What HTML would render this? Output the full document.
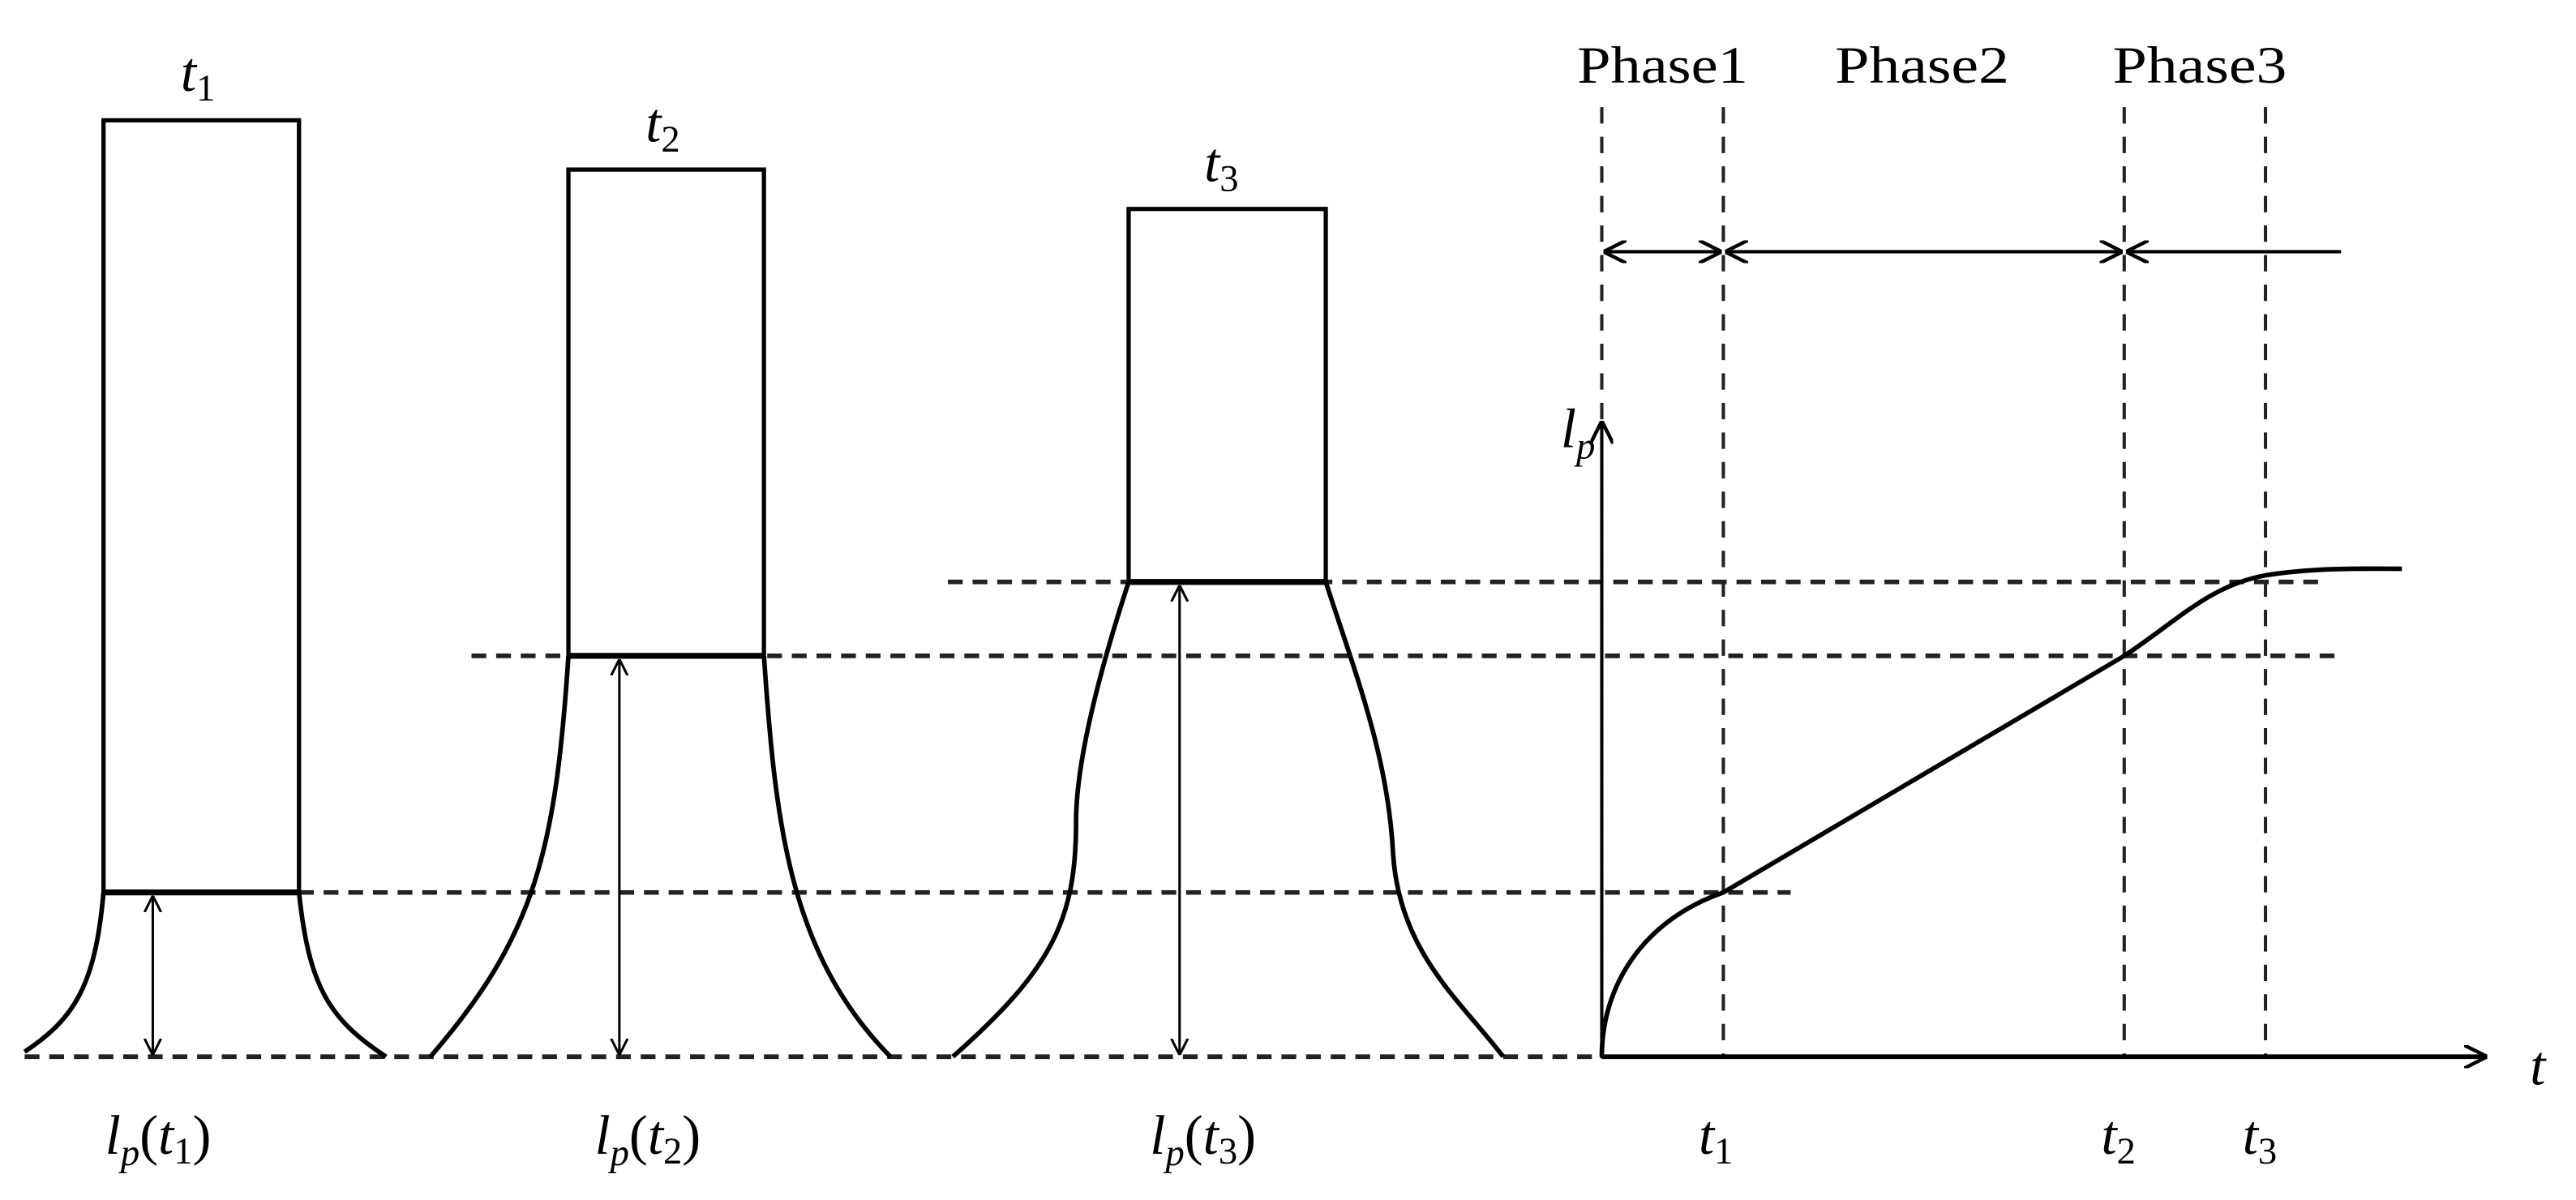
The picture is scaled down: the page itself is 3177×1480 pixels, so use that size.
<!DOCTYPE html>
<html><head><style>html,body{margin:0;padding:0;background:#fff}svg{display:block}</style></head>
<body>
<svg width="3177" height="1480" viewBox="0 0 1568 730" xmlns="http://www.w3.org/2000/svg">
<defs>
<marker id="a" viewBox="0 0 10 10" refX="10" refY="5" markerWidth="10" markerHeight="12" markerUnits="userSpaceOnUse" orient="auto-start-reverse"><path d="M0,0 L10,5 L0,10" fill="none" stroke="#000" stroke-width="1.5"/></marker>
<marker id="b" viewBox="0 0 14 14" refX="14" refY="7" markerWidth="14" markerHeight="14" markerUnits="userSpaceOnUse" orient="auto-start-reverse"><path d="M0,0 L14,7 L0,14" fill="none" stroke="#000" stroke-width="2.2"/></marker>
</defs>
<g fill="none" stroke="#222" stroke-width="2.8" stroke-dasharray="9,6">
<line x1="15" y1="643" x2="975" y2="643"/>
<line x1="182" y1="543" x2="1090" y2="543"/>
<line x1="287" y1="399" x2="1425" y2="399"/>
<line x1="577" y1="354" x2="1415" y2="354"/>
</g>
<g fill="none" stroke="#222" stroke-width="2" stroke-dasharray="10,8">
<line x1="975" y1="65" x2="975" y2="643"/>
<line x1="1049" y1="65" x2="1049" y2="643"/>
<line x1="1293" y1="65" x2="1293" y2="643"/>
<line x1="1379" y1="65" x2="1379" y2="643"/>
</g>
<g fill="none" stroke="#000" stroke-width="2.6">
<path d="M63,543 V73 H182 V543"/>
<path d="M346,399 V103 H465 V399"/>
<path d="M687,354 V127 H807 V354"/>
</g>
<g stroke="#000" stroke-width="3.6">
<line x1="63" y1="543" x2="182" y2="543"/>
<line x1="346" y1="399" x2="465" y2="399"/>
<line x1="687" y1="354" x2="807" y2="354"/>
</g>
<g fill="none" stroke="#000" stroke-width="2.8">
<path d="M63,543 C58,600 45,620 15,640"/>
<path d="M182,543 C188,600 200,620 235,643"/>
<path d="M346,399 C338,520 325,570 262,643"/>
<path d="M465,399 C472,500 480,580 542,643"/>
<path d="M687,354 C672,400 655,460 655,500 C655,560 640,590 580,643"/>
<path d="M807,354 C825,410 845,460 848,520 C852,580 890,610 915,643"/>
<path d="M975,643 C975,600 1000,560 1049,543 L1293,399 C1325,378 1345,356 1379,350 C1410,345 1440,346 1462,346"/>
</g>
<g fill="none" stroke="#000" stroke-width="1.5">
<line x1="93" y1="545" x2="93" y2="642" marker-start="url(#a)" marker-end="url(#a)"/>
<line x1="377" y1="401" x2="377" y2="642" marker-start="url(#a)" marker-end="url(#a)"/>
<line x1="718" y1="356" x2="718" y2="642" marker-start="url(#a)" marker-end="url(#a)"/>
</g>
<g fill="none" stroke="#000" stroke-width="2">
<line x1="976" y1="153" x2="1048" y2="153" marker-start="url(#b)" marker-end="url(#b)"/>
<line x1="1050" y1="153" x2="1292" y2="153" marker-start="url(#b)" marker-end="url(#b)"/>
<line x1="1294" y1="153" x2="1425" y2="153" marker-start="url(#b)"/>
<line x1="975" y1="644" x2="975" y2="256" marker-end="url(#b)"/>
<line x1="975" y1="643" x2="1514" y2="643" stroke-width="2.8" marker-end="url(#b)"/>
</g>
<g font-family="Liberation Serif, serif" font-size="32" fill="#000" text-anchor="middle">
<text x="1012" y="50" textLength="104" lengthAdjust="spacingAndGlyphs">Phase1</text>
<text x="1170" y="50" textLength="106" lengthAdjust="spacingAndGlyphs">Phase2</text>
<text x="1339" y="50" textLength="106" lengthAdjust="spacingAndGlyphs">Phase3</text>
</g>
<g font-family="Liberation Serif, serif" font-size="34" fill="#000" font-style="italic">
<text x="110" y="55">t<tspan font-size="23" dy="6" font-style="normal">1</tspan></text>
<text x="393" y="86">t<tspan font-size="23" dy="6" font-style="normal">2</tspan></text>
<text x="733" y="110">t<tspan font-size="23" dy="6" font-style="normal">3</tspan></text>
<text x="64" y="702">l<tspan font-size="23" dy="7">p</tspan><tspan dy="-7" font-style="normal">(</tspan>t<tspan font-size="23" dy="6" font-style="normal">1</tspan><tspan dy="-6" font-style="normal">)</tspan></text>
<text x="362" y="702">l<tspan font-size="23" dy="7">p</tspan><tspan dy="-7" font-style="normal">(</tspan>t<tspan font-size="23" dy="6" font-style="normal">2</tspan><tspan dy="-6" font-style="normal">)</tspan></text>
<text x="700" y="702">l<tspan font-size="23" dy="7">p</tspan><tspan dy="-7" font-style="normal">(</tspan>t<tspan font-size="23" dy="6" font-style="normal">3</tspan><tspan dy="-6" font-style="normal">)</tspan></text>
<text x="950" y="272">l<tspan font-size="23" dy="7">p</tspan></text>
<text x="1540" y="660">t</text>
<text x="1034" y="702">t<tspan font-size="23" dy="6" font-style="normal">1</tspan></text>
<text x="1279" y="702">t<tspan font-size="23" dy="6" font-style="normal">2</tspan></text>
<text x="1365" y="702">t<tspan font-size="23" dy="6" font-style="normal">3</tspan></text>
</g>
</svg>
</body></html>
